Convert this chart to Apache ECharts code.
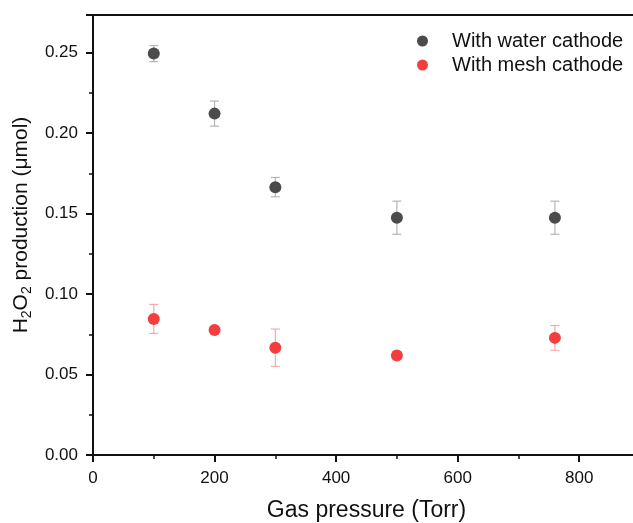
<!DOCTYPE html>
<html>
<head>
<meta charset="utf-8">
<script src="https://cdn.jsdelivr.net/npm/echarts@6/dist/echarts.min.js"></script>
<style>html,body{margin:0;padding:0;background:#fff;}#c{width:633px;height:523px;}</style>
</head>
<body>
<div id="c"></div>
<script>
const pressure = [100, 200, 300, 500, 760];
const waterVals = [0.2495, 0.2122, 0.1665, 0.1475, 0.1475];
const waterErr = [0.005, 0.0078, 0.006, 0.0103, 0.0103];
const meshVals = [0.0846, 0.0777, 0.0667, 0.0618, 0.0728];
const meshErr = [0.009, 0.002, 0.0116, 0.002, 0.0077];
const xTicks = [0, 200, 400, 600, 800];
const yTicks = [0, 0.05, 0.10, 0.15, 0.20, 0.25];

const FONT = '"Liberation Sans", Arial, sans-serif';
const waterColor = '#4b4b4b';
const meshColor = '#f43d3d';

function errData(vals, errs) {
  return pressure.map((p, i) => [p, vals[i] - errs[i], vals[i] + errs[i]]);
}
function errRender(color) {
  return function (params, api) {
    const x = api.value(0);
    const lo = api.coord([x, api.value(1)]);
    const hi = api.coord([x, api.value(2)]);
    const cap = 4.5;
    const style = { stroke: color, lineWidth: 1.2 };
    return {
      type: 'group',
      children: [
        { type: 'line', shape: { x1: lo[0], y1: lo[1], x2: hi[0], y2: hi[1] }, style },
        { type: 'line', shape: { x1: lo[0] - cap, y1: lo[1], x2: lo[0] + cap, y2: lo[1] }, style },
        { type: 'line', shape: { x1: hi[0] - cap, y1: hi[1], x2: hi[0] + cap, y2: hi[1] }, style }
      ]
    };
  };
}

const axisLineStyle = { color: '#111', width: 2 };
const chart = echarts.init(document.getElementById('c'));
chart.setOption({
  animation: false,
  backgroundColor: '#fff',
  grid: { left: 93, width: 547, top: 15, height: 440, show: false, containLabel: false, outerBoundsMode: 'none' },
  legend: {
    left: 412, top: 26, orient: 'vertical', itemGap: 4,
    itemWidth: 11, itemHeight: 11,
    textStyle: { fontFamily: FONT, fontSize: 20, color: '#111', padding: [0, 0, 0, 19] },
    data: [
      { name: 'With water cathode', icon: 'circle' },
      { name: 'With mesh cathode', icon: 'circle' }
    ]
  },
  xAxis: [{
    type: 'value', min: 0, max: 900, interval: 200,
    name: 'Gas pressure (Torr)', nameLocation: 'middle', nameGap: 44,
    nameTextStyle: { fontFamily: FONT, fontSize: 23, color: '#111' },
    axisLine: { show: true, onZero: false, lineStyle: axisLineStyle },
    axisTick: { show: true, length: 7, lineStyle: { color: '#111', width: 2 } },
    minorTick: { show: true, splitNumber: 2, length: 4, lineStyle: { color: '#111', width: 1.5 } },
    splitLine: { show: false },
    axisLabel: {
      fontFamily: FONT, fontSize: 17, color: '#111', margin: 15,
      showMaxLabel: false,
      formatter: v => xTicks.includes(v) ? String(v) : ''
    }
  }, {
    type: 'value', position: 'top', min: 0, max: 900,
    axisLine: { show: true, onZero: false, lineStyle: axisLineStyle },
    axisTick: { show: false }, axisLabel: { show: false }, splitLine: { show: false }
  }],
  yAxis: {
    type: 'value', min: 0, max: 0.2735, interval: 0.05,
    name: 'H{sub|2}O{sub|2} production (μmol)', nameLocation: 'middle', nameGap: 57,
    nameTextStyle: {
      fontFamily: FONT, fontSize: 21, color: '#111', padding: [0, 0, 0, 20],
      rich: { sub: { fontFamily: FONT, fontSize: 14, color: '#111', padding: [11, 0, 0, 0] } }
    },
    axisLine: { show: true, onZero: false, lineStyle: axisLineStyle },
    axisTick: { show: true, length: 7, lineStyle: { color: '#111', width: 2 } },
    minorTick: { show: true, splitNumber: 2, length: 4, lineStyle: { color: '#111', width: 1.5 } },
    splitLine: { show: false },
    axisLabel: {
      fontFamily: FONT, fontSize: 17, color: '#111', margin: 15,
      showMaxLabel: false,
      formatter: v => yTicks.some(t => Math.abs(t - v) < 1e-9) ? v.toFixed(2) : ''
    }
  },
  series: [
    {
      type: 'custom', name: 'waterErr', renderItem: errRender('#b5b5b5'),
      data: errData(waterVals, waterErr), encode: { x: 0, y: [1, 2] }, z: 1, silent: true
    },
    {
      type: 'custom', name: 'meshErr', renderItem: errRender('#f7aaaa'),
      data: errData(meshVals, meshErr), encode: { x: 0, y: [1, 2] }, z: 1, silent: true
    },
    {
      type: 'scatter', name: 'With water cathode', symbol: 'circle', symbolSize: 12,
      itemStyle: { color: waterColor, opacity: 1 }, z: 3,
      data: pressure.map((p, i) => [p, waterVals[i]])
    },
    {
      type: 'scatter', name: 'With mesh cathode', symbol: 'circle', symbolSize: 12,
      itemStyle: { color: meshColor, opacity: 1 }, z: 3,
      data: pressure.map((p, i) => [p, meshVals[i]])
    }
  ]
});
</script>
</body>
</html>
